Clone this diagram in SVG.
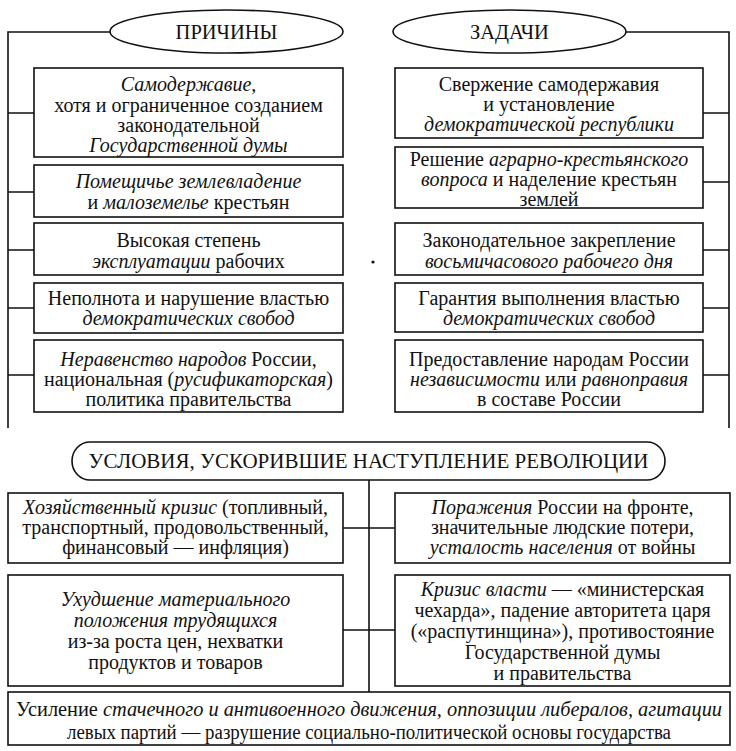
<svg xmlns="http://www.w3.org/2000/svg" width="736" height="751" viewBox="0 0 736 751">
<style>
.b{fill:#fff;stroke:#111;stroke-width:1.6}
.c{fill:none;stroke:#111;stroke-width:1.6}
text{font-family:"Liberation Serif","Times New Roman",serif;font-size:20px;fill:#111;text-anchor:middle}
.i{font-style:italic}
.h{font-size:20.5px}
.hb{font-size:21px}
</style>
<rect width="736" height="751" fill="#fff"/>
<g id="connectors">
<path class="c" d="M110,32 H8 V428 M8,113 H34 M8,192 H34 M8,250 H34 M8,308 H34 M8,375 H34"/>
<path class="c" d="M626,32 H729 V428 M703,113 H729 M703,182 H729 M703,250 H729 M703,308 H729 M703,375 H729"/>
<path class="c" d="M369,480 V692 M343,528 H395 M343,630 H395"/>
</g>
<g id="prichiny"><ellipse class="b" cx="226.5" cy="31.5" rx="116.5" ry="21.5"/><text class="h" x="226.5" y="38.5">ПРИЧИНЫ</text></g>
<g id="zadachi"><ellipse class="b" cx="509.5" cy="31.5" rx="116.5" ry="21.5"/><text class="h" x="509.5" y="38.5">ЗАДАЧИ</text></g>
<g id="p1"><rect class="b" x="34" y="68" width="309" height="89"/>
<text x="188.5" y="91"><tspan class="i">Самодержавие</tspan>,</text>
<text x="188.5" y="112">хотя и ограниченное созданием</text>
<text x="188.5" y="132">законодательной</text>
<text x="188.5" y="152" class="i">Государственной думы</text></g>
<g id="p2"><rect class="b" x="34" y="165" width="309" height="52"/>
<text x="188.5" y="188" class="i">Помещичье землевладение</text>
<text x="188.5" y="209">и <tspan class="i">малоземелье</tspan> крестьян</text></g>
<g id="p3"><rect class="b" x="34" y="223" width="309" height="52"/>
<text x="188.5" y="247">Высокая степень</text>
<text x="188.5" y="268"><tspan class="i">эксплуатации</tspan> рабочих</text></g>
<g id="p4"><rect class="b" x="34" y="283" width="309" height="50"/>
<text x="188.5" y="305">Неполнота и нарушение властью</text>
<text x="188.5" y="325" class="i">демократических свобод</text></g>
<g id="p5"><rect class="b" x="34" y="340" width="309" height="72"/>
<text x="188.5" y="366"><tspan class="i">Неравенство народов</tspan> России,</text>
<text x="188.5" y="386">национальная (<tspan class="i">русификаторская</tspan>)</text>
<text x="188.5" y="406">политика правительства</text></g>
<g id="z1"><rect class="b" x="395" y="68" width="308" height="70"/>
<text x="549" y="91">Свержение самодержавия</text>
<text x="549" y="111">и установление</text>
<text x="549" y="131" class="i">демократической республики</text></g>
<g id="z2"><rect class="b" x="395" y="147" width="308" height="61"/>
<text x="549" y="166">Решение <tspan class="i">аграрно-крестьянского</tspan></text>
<text x="549" y="186"><tspan class="i">вопроса</tspan> и наделение крестьян</text>
<text x="549" y="206">землей</text></g>
<g id="z3"><rect class="b" x="395" y="223" width="308" height="52"/>
<text x="549" y="247">Законодательное закрепление</text>
<text x="549" y="268" class="i">восьмичасового рабочего дня</text></g>
<g id="z4"><rect class="b" x="395" y="283" width="308" height="49"/>
<text x="549" y="305">Гарантия выполнения властью</text>
<text x="549" y="325" class="i">демократических свобод</text></g>
<g id="z5"><rect class="b" x="395" y="340" width="308" height="72"/>
<text x="549" y="366">Предоставление народам России</text>
<text x="549" y="386"><tspan class="i">независимости</tspan> или <tspan class="i">равноправия</tspan></text>
<text x="549" y="406">в составе России</text></g>
<circle cx="373" cy="262" r="1.6" fill="#111"/>
<g id="usloviya"><rect class="b" x="72" y="442" width="593" height="38" rx="18" ry="19"/>
<text class="hb" x="368.5" y="468">УСЛОВИЯ, УСКОРИВШИЕ НАСТУПЛЕНИЕ РЕВОЛЮЦИИ</text></g>
<g id="u1"><rect class="b" x="8" y="493" width="335" height="70"/>
<text x="175.5" y="514"><tspan class="i">Хозяйственный кризис</tspan> (топливный,</text>
<text x="175.5" y="534">транспортный, продовольственный,</text>
<text x="175.5" y="554">финансовый — инфляция)</text></g>
<g id="u2"><rect class="b" x="8" y="575" width="335" height="111"/>
<text x="175.5" y="606" class="i">Ухудшение материального</text>
<text x="175.5" y="627" class="i">положения трудящихся</text>
<text x="175.5" y="648">из-за роста цен, нехватки</text>
<text x="175.5" y="669">продуктов и товаров</text></g>
<g id="u3"><rect class="b" x="395" y="493" width="335" height="70"/>
<text x="562.5" y="514"><tspan class="i">Поражения</tspan> России на фронте,</text>
<text x="562.5" y="534">значительные людские потери,</text>
<text x="562.5" y="554"><tspan class="i">усталость населения</tspan> от войны</text></g>
<g id="u4"><rect class="b" x="395" y="575" width="335" height="111"/>
<text x="562.5" y="596"><tspan class="i">Кризис власти</tspan> — «министерская</text>
<text x="562.5" y="617">чехарда», падение авторитета царя</text>
<text x="562.5" y="638">(«распутинщина»), противостояние</text>
<text x="562.5" y="659">Государственной думы</text>
<text x="562.5" y="680">и правительства</text></g>
<g id="u5"><rect class="b" x="8" y="692" width="722" height="53"/>
<text x="369" y="716" textLength="706" lengthAdjust="spacingAndGlyphs">Усиление <tspan class="i">стачечного и антивоенного движения, оппозиции либералов, агитации</tspan></text>
<text x="369" y="739" textLength="604" lengthAdjust="spacingAndGlyphs">левых партий — разрушение социально-политической основы государства</text></g>
</svg>
